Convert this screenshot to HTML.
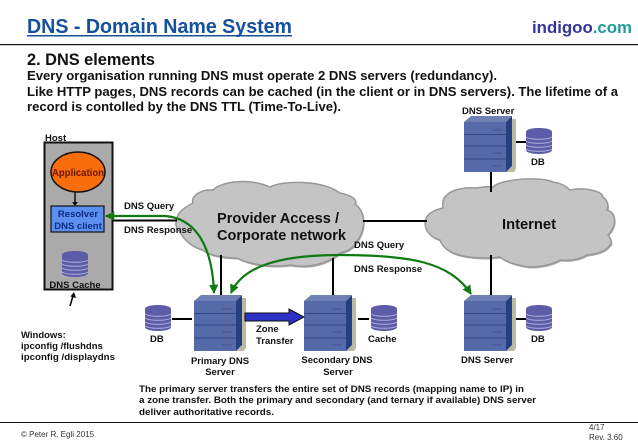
<!DOCTYPE html>
<html><head><meta charset="utf-8">
<style>
html,body{margin:0;padding:0;background:#fff}
svg{display:block}
text{font-family:"Liberation Sans",sans-serif;font-weight:bold}
</style></head><body>
<svg width="638" height="442" viewBox="0 0 638 442" xmlns="http://www.w3.org/2000/svg">
<defs>
<g id="srv">
<polygon points="4,56 50,56 52,53 52,3 48,3 48,50 42,56" fill="#bdb8a4"/>
<polygon points="0,6 7,0 48,0 42,6" fill="#6f80b4"/>
<rect x="0" y="6" width="42" height="50" fill="#5669a8"/>
<polygon points="42,6 48,0 48,50 42,56" fill="#263f80"/>
<path d="M0 18.500H42M0 30H42M0 43H42" stroke="#36487f" stroke-width="1"/>
<path d="M28 14H38M28 37H38M28 50H38" stroke="#44568f" stroke-width="1"/>
</g>
<g id="db">
<path d="M0 4C0 -1.300 26 -1.300 26 4V22C26 27.300 0 27.300 0 22Z" fill="#5c5ca8"/>
<path d="M0 9C4 12 22 12 26 9M0 13C4 16 22 16 26 13M0 17C4 20 22 20 26 17M0 21C4 24 22 24 26 21" stroke="#b0b0dc" stroke-width="1" fill="none"/>
</g>
<path id="cl1" d="M176 225C175 214 183 208 193 203C190 196 202 189 213 190C222 181 250 178 270 187C284 180 322 180 340 193C350 195 358 199 355 204C366 212 366 228 358 240C354 248 348 251 340 253C325 266 305 268 290 265C270 268 248 264 237 258C222 258 208 255 203 250C192 247 184 240 180 232C178 230 176 228 176 225Z"/>
<path id="cl2" d="M425 222C426 214 434 210 443 208C442 200 444 197 447 195C452 189 467 187 477 188C483 187 488 186 493 187C500 179 540 176 553 182C560 183 566 186 570 190C585 187 602 191 603 197C608 201 609 205 607 210C616 213 618 224 608 235C612 240 612 244 610 245C606 251 597 254 587 255C578 260 569 261 560 260C548 267 530 268 523 266C512 264 505 261 500 257C485 259 465 258 453 253C446 250 442 246 440 240C432 238 425 232 425 222Z"/>
<marker id="ga" viewBox="0 0 10 10" refX="9" refY="5" markerWidth="4.200" markerHeight="4.200" orient="auto-start-reverse"><path d="M0 0L10 5L0 10Z" fill="#0f7a12"/></marker>
</defs>

<text x="27" y="33" font-size="20" fill="#15509e" textLength="265" lengthAdjust="spacingAndGlyphs">DNS - Domain Name System</text>
<rect x="27" y="35" width="265" height="1.500" fill="#15509e"/>
<text x="532" y="33" font-size="16.500" fill="#33369a" textLength="100" lengthAdjust="spacingAndGlyphs">indigoo<tspan fill="#1f9a9a">.com</tspan></text>
<rect x="0" y="44" width="638" height="1.200" fill="#111"/>

<text x="27" y="65" font-size="17" fill="#111" textLength="128" lengthAdjust="spacingAndGlyphs">2. DNS elements</text>
<g font-size="13" fill="#111">
<text x="27" y="80" textLength="470" lengthAdjust="spacingAndGlyphs">Every organisation running DNS must operate 2 DNS servers (redundancy).</text>
<text x="27" y="96" textLength="591" lengthAdjust="spacingAndGlyphs">Like HTTP pages, DNS records can be cached (in the client or in DNS servers). The lifetime of a</text>
<text x="27" y="111" textLength="314" lengthAdjust="spacingAndGlyphs">record is contolled by the DNS TTL (Time-To-Live).</text>
</g>

<!-- clouds -->
<use href="#cl1" fill="#a8a8a8" transform="translate(1,1.500)"/>
<use href="#cl1" fill="#c4c4c4" stroke="#989898" stroke-width="1.500"/>
<use href="#cl2" fill="#a8a8a8" transform="translate(1,1.500)"/>
<use href="#cl2" fill="#c4c4c4" stroke="#989898" stroke-width="1.500"/>

<!-- connecting lines -->
<g stroke="#000" stroke-width="2" fill="none">
<path d="M491 172V192"/><path d="M515 142H526"/>
<path d="M363 221H427"/>
<path d="M491 255V295"/>
<path d="M221 255V295"/>
<path d="M333 258V295"/>
<path d="M172 319H192"/>
<path d="M358 319H369"/>
<path d="M516 319H526"/>
<path d="M113 220.500H177"/>
<path d="M76 232V251"/>
<path d="M70 306L73 296" stroke-width="1.500"/>
</g>
<path d="M74 292L76 298L70.500 296.500Z" fill="#000"/>

<text x="217" y="223" font-size="14.500" fill="#111" textLength="122" lengthAdjust="spacingAndGlyphs">Provider Access /</text>
<text x="217" y="240" font-size="14.500" fill="#111" textLength="129" lengthAdjust="spacingAndGlyphs">Corporate network</text>
<text x="502" y="229" font-size="14.500" fill="#111" textLength="54" lengthAdjust="spacingAndGlyphs">Internet</text>

<!-- host -->
<rect x="44.500" y="142.500" width="68" height="147" fill="#aaaaaa" stroke="#111" stroke-width="2"/>
<text x="45" y="141" font-size="9.500" fill="#111" font-weight="bold">Host</text>
<ellipse cx="78" cy="172" rx="27" ry="20" fill="#f96d0c" stroke="#111" stroke-width="1.500"/>
<text x="78" y="176" font-size="10" fill="#6a1500" text-anchor="middle" textLength="52" lengthAdjust="spacingAndGlyphs">Application</text>
<path d="M75 192V203" stroke="#111" stroke-width="1.500"/>
<path d="M72 202H78L75 206Z" fill="#111"/>
<rect x="51" y="206" width="53" height="26" fill="#5b90f0" stroke="#111" stroke-width="1.200"/>
<text x="78" y="217" font-size="9.500" fill="#0d2a80" text-anchor="middle">Resolver</text>
<text x="78" y="229" font-size="9.500" fill="#0d2a80" text-anchor="middle">DNS client</text>
<use href="#db" x="62" y="251"/>
<text x="75" y="288" font-size="9.500" fill="#111" text-anchor="middle">DNS Cache</text>

<!-- servers -->
<use href="#srv" x="464" y="116"/>
<use href="#srv" x="194" y="295"/>
<use href="#srv" x="304" y="295"/>
<use href="#srv" x="464" y="295"/>
<use href="#db" x="526" y="128"/>
<use href="#db" x="145" y="305"/>
<use href="#db" x="371" y="305"/>
<use href="#db" x="526" y="305"/>

<!-- zone transfer arrow -->
<polygon points="245,313 289,313 289,309 304,317 289,325 289,321 245,321" fill="#2c30c4" stroke="#111" stroke-width="1"/>

<!-- green arrows -->
<g fill="none" stroke="#0f7a12" stroke-width="2.200">
<path d="M106 216H165C192 218 212 240 214 293" marker-start="url(#ga)" marker-end="url(#ga)"/>
<path d="M231 293C242 268 275 255 340 255C410 255 450 262 471 294" marker-start="url(#ga)" marker-end="url(#ga)"/>
</g>

<!-- labels -->
<g font-size="9.500" fill="#111">
<text x="124" y="209">DNS Query</text>
<text x="124" y="233">DNS Response</text>
<text x="354" y="248">DNS Query</text>
<text x="354" y="272">DNS Response</text>
<text x="462" y="114">DNS Server</text>
<text x="531" y="165">DB</text>
<text x="150" y="342">DB</text>
<text x="368" y="342">Cache</text>
<text x="531" y="342">DB</text>
<text x="461" y="363">DNS Server</text>
<text x="256" y="332">Zone</text>
<text x="256" y="344">Transfer</text>
<text x="220" y="364" text-anchor="middle">Primary DNS</text>
<text x="220" y="375" text-anchor="middle">Server</text>
<text x="337" y="363" text-anchor="middle">Secondary DNS</text>
<text x="338" y="375" text-anchor="middle">Server</text>
<text x="21" y="338">Windows:</text>
<text x="21" y="349">ipconfig /flushdns</text>
<text x="21" y="360" textLength="94" lengthAdjust="spacingAndGlyphs">ipconfig /displaydns</text>
<text x="139" y="392" textLength="385" lengthAdjust="spacingAndGlyphs">The primary server transfers the entire set of DNS records (mapping name to IP) in</text>
<text x="139" y="403" textLength="397" lengthAdjust="spacingAndGlyphs">a zone transfer. Both the primary and secondary (and ternary if available) DNS server</text>
<text x="139" y="415" textLength="135" lengthAdjust="spacingAndGlyphs">deliver authoritative records.</text>
</g>

<rect x="0" y="422" width="638" height="1" fill="#111"/>
<text x="21" y="437" font-size="8" fill="#333" style="font-weight:normal">© Peter R. Egli 2015</text>
<text x="589" y="430" font-size="8" fill="#333" style="font-weight:normal">4/17</text>
<text x="589" y="440" font-size="8" fill="#333" style="font-weight:normal">Rev. 3.60</text>
</svg>
</body></html>
